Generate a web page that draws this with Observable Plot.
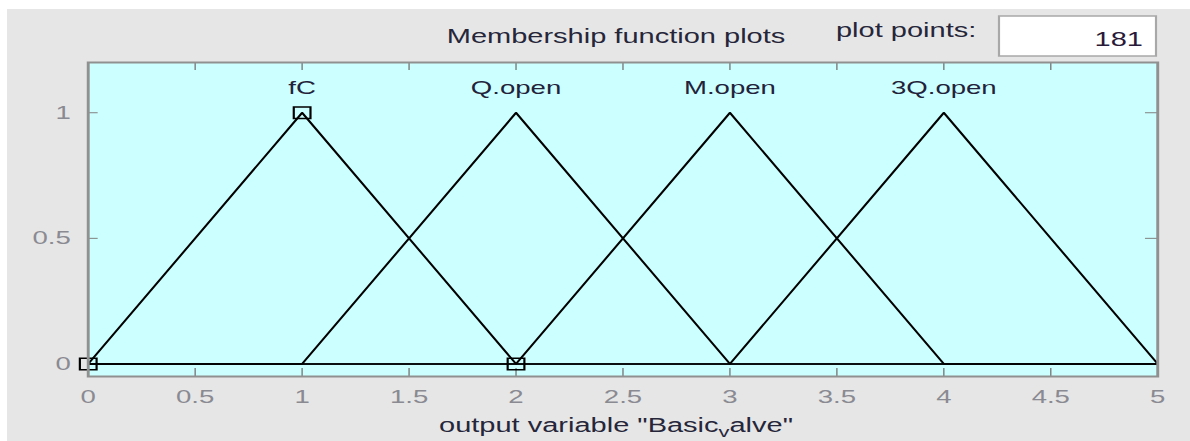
<!DOCTYPE html>
<html><head><meta charset="utf-8">
<script src="https://cdn.jsdelivr.net/npm/d3@7"></script>
<script src="https://cdn.jsdelivr.net/npm/@observablehq/plot@0.6"></script>
<style>
html,body{margin:0;padding:0;background:#fff;}
#wrap{position:relative;width:1190px;height:441px;overflow:hidden;}
#fig{position:absolute;left:7px;top:9px;right:0;bottom:0;background:#e6e6e6;}
#chart svg,#over{position:absolute;left:0;top:0;}
</style></head><body>
<div id="wrap"><div id="fig"></div><div id="chart"></div></div>
<script>
// ---- data ----
const xTicks = [0, 0.5, 1, 1.5, 2, 2.5, 3, 3.5, 4, 4.5, 5];
const yTicks = [0, 0.5, 1];
const xRange = [0, 5];
const mfNames = ["fC", "Q.open", "M.open", "3Q.open"];
const mfA = [0, 1, 2, 3];   // triangle left foot
const mfB = [1, 2, 3, 4];   // triangle peak
const mfC = [2, 3, 4, 5];   // triangle right foot
const selectedMF = 0;       // fC is highlighted
const titleText = "Membership function plots";
const pointsLabel = "plot points:";
const pointsValue = "181";
const xLabelMain = "output variable \"Basic";
const xLabelSub = "v";
const xLabelTail = "alve\"";

// ---- derived tables ----
const curves = [];
mfNames.forEach((name, i) => {
  [[xRange[0], 0], [mfA[i], 0], [mfB[i], 1], [mfC[i], 0], [xRange[1], 0]]
    .forEach(([x, y]) => curves.push({name, x, y}));
});
const sel = [
  {x: mfA[selectedMF], y: 0}, {x: mfB[selectedMF], y: 1}, {x: mfC[selectedMF], y: 0}
];
const peaks = mfNames.map((name, i) => ({name, x: mfB[i], y: 1}));

// ---- layout (rendered at narrower width, stretched horizontally) ----
const TOTAL_W = 1190, H = 441, W = 820, S = TOTAL_W / W;
const ML = 87.5 / S, MR = 33 / S, MT = 62, MB = 65;
const frameW = W - ML - MR, frameH = H - MT - MB;
const FONT = "'Liberation Sans', Arial, sans-serif";

const chart = Plot.plot({
  width: W, height: H,
  marginLeft: ML, marginRight: MR, marginTop: MT, marginBottom: MB,
  style: {background: "transparent", fontFamily: FONT},
  x: {domain: xRange},
  y: {domain: [-0.05, 1.2]},
  marks: [
    Plot.frame({fill: "#ccffff"}),
    Plot.tickX(xTicks, {x: d => d, stroke: "#808080", insetTop: frameH - 8}),
    Plot.tickX(xTicks, {x: d => d, stroke: "#808080", insetBottom: frameH - 8}),
    Plot.tickY(yTicks, {y: d => d, stroke: "#808080", insetRight: frameW - 7}),
    Plot.tickY(yTicks, {y: d => d, stroke: "#808080", insetLeft: frameW - 8.3}),
    Plot.line(curves, {x: "x", y: "y", z: "name", stroke: "black", strokeWidth: 1.6}),
    Plot.dot(sel, {x: "x", y: "y", symbol: "square", r: 6.5, stroke: "black", fill: "none", strokeWidth: 1.5}),
    Plot.text(peaks, {x: "x", y: "y", text: "name", dy: -19, lineAnchor: "bottom", fontSize: 19, fill: "#22223a"}),
    Plot.axisX(xTicks, {tickSize: 0, tickPadding: 13, fontSize: 19, color: "#8a8a92", label: null, tickFormat: d => String(d)}),
    Plot.axisY(yTicks, {tickSize: 0, tickPadding: 12, fontSize: 19, color: "#8a8a92", label: null, tickFormat: d => String(d)}),
    Plot.frame({stroke: "#909090", strokeWidth: 2})
  ]
});
chart.setAttribute("width", TOTAL_W);
chart.setAttribute("preserveAspectRatio", "none");
chart.style.width = TOTAL_W + "px";
chart.style.height = H + "px";
chart.style.maxWidth = "none";
document.getElementById("chart").appendChild(chart);

// ---- overlay: title, plot points box, x label ----
const over = d3.select("#wrap").append("svg").attr("id", "over")
  .attr("width", TOTAL_W).attr("height", H)
  .attr("viewBox", `0 0 ${W} ${H}`).attr("preserveAspectRatio", "none")
  .style("font-family", FONT);
over.append("text").attr("x", 616 / S).attr("y", 43).attr("text-anchor", "middle")
  .attr("font-size", 20).attr("fill", "#26263a").text(titleText);
over.append("text").attr("x", 836 / S).attr("y", 37)
  .attr("font-size", 20).attr("fill", "#26263a").text(pointsLabel);
over.append("rect").attr("x", 999 / S).attr("y", 16).attr("width", 157 / S).attr("height", 40)
  .attr("fill", "white").attr("stroke", "#a8a8a8").attr("stroke-width", 1.5);
over.append("text").attr("x", 1143 / S).attr("y", 46).attr("text-anchor", "end")
  .attr("font-size", 20).attr("fill", "#2a1a3a").text(pointsValue);
const xl = over.append("text").attr("x", 616 / S).attr("y", 432).attr("text-anchor", "middle")
  .attr("font-size", 20).attr("fill", "#26263a");
xl.append("tspan").text(xLabelMain);
xl.append("tspan").attr("dy", 5).attr("font-size", 15).text(xLabelSub);
xl.append("tspan").attr("dy", -5).text(xLabelTail);
</script>
</body></html>
